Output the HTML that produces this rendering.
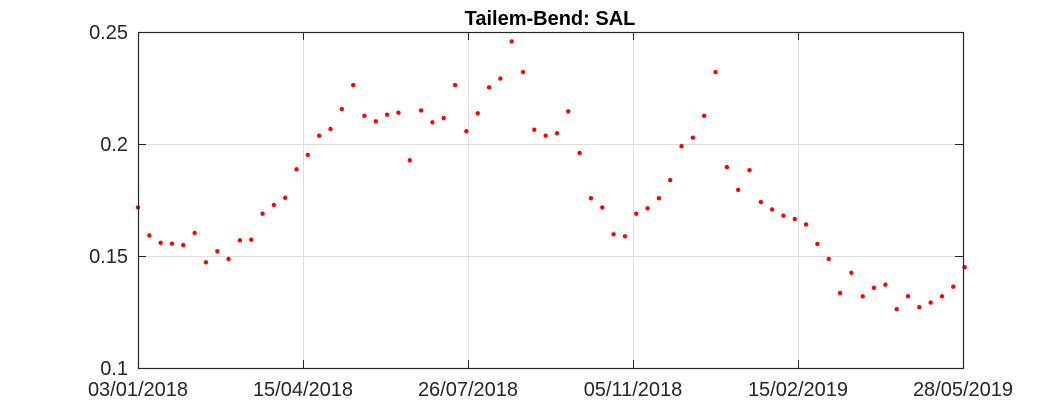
<!DOCTYPE html>
<html><head><meta charset="utf-8"><style>
html,body{margin:0;padding:0;background:#fff;}
svg{display:block;font-family:"Liberation Sans",Arial,sans-serif;}
</style></head><body>
<svg id="chart" width="1063" height="413">
<rect x="0" y="0" width="1063" height="413" fill="#fff"/>
<text x="550" y="25" text-anchor="middle" font-size="20" font-weight="bold" fill="#000">Tailem-Bend: SAL</text>
<g id="grid"></g>
<g id="points"></g>
<rect x="138.5" y="32.5" width="825" height="336" fill="none" stroke="#262626" stroke-width="1.2"/>
<g id="axes"></g>
</svg>
<script>
const yTicks = [0.1, 0.15, 0.2, 0.25];
const yTickLabels = ["0.1", "0.15", "0.2", "0.25"];
const xTickLabels = ["03/01/2018", "15/04/2018", "26/07/2018", "05/11/2018", "15/02/2019", "28/05/2019"];
const xTickDays = [0, 102, 204, 306, 408, 510];
const startDate = "2018-01-03";
const stepDays = 7;
const salValues = [0.1717,0.1592,0.1559,0.1555,0.1549,0.1603,0.1472,0.1521,0.1487,0.1570,
0.1573,0.1689,0.1728,0.1760,0.1887,0.1951,0.2037,0.2067,0.2156,0.2263,
0.2126,0.2101,0.2131,0.2140,0.1927,0.2150,0.2097,0.2116,0.2263,0.2057,
0.2137,0.2253,0.2292,0.2458,0.2321,0.2064,0.2037,0.2048,0.2146,0.1960,
0.1758,0.1717,0.1597,0.1588,0.1689,0.1713,0.1758,0.1839,0.1990,0.2028,
0.2126,0.2321,0.1897,0.1795,0.1883,0.1741,0.1708,0.1680,0.1665,0.1641,
0.1554,0.1487,0.1335,0.1425,0.1320,0.1358,0.1372,0.1263,0.1320,0.1272,
0.1292,0.1320,0.1363,0.1450];

const NS = "http://www.w3.org/2000/svg";
const L = 138, R = 963, T = 32, B = 368;
const dMin = 0, dMax = 510, yMin = 0.1, yMax = 0.25;
const xs = d => L + (d - dMin) / (dMax - dMin) * (R - L);
const ys = v => B - (v - yMin) / (yMax - yMin) * (B - T);
function mk(tag, attrs, parent) {
  const e = document.createElementNS(NS, tag);
  for (const k in attrs) e.setAttribute(k, attrs[k]);
  parent.appendChild(e);
  return e;
}
const grid = document.getElementById("grid");
const axes = document.getElementById("axes");
const pts = document.getElementById("points");

yTicks.forEach((v, i) => {
  const y = Math.round(ys(v)) + 0.5;
  if (i > 0 && i < yTicks.length - 1) {
    const g = mk("line", {x1: L, x2: R, y1: y, y2: y, stroke: "#dedede", "stroke-width": 1}, grid);
    
    
  }
  const t1 = mk("line", {x1: L, x2: L + 8, y1: y, y2: y, stroke: "#262626"}, axes);
  
  
  const t2 = mk("line", {x1: R - 8, x2: R, y1: y, y2: y, stroke: "#262626"}, axes);
  
  
  const tx = mk("text", {x: L - 10, y: ys(v) + 7, "text-anchor": "end", "font-size": 20, fill: "#262626"}, axes);
  tx.textContent = yTickLabels[i];
  
  
});

xTickDays.forEach((d, i) => {
  const x = Math.round(xs(d)) + 0.5;
  if (i > 0 && i < xTickDays.length - 1) {
    const g = mk("line", {x1: x, x2: x, y1: T, y2: B, stroke: "#dedede", "stroke-width": 1}, grid);
    
    
  }
  const t1 = mk("line", {x1: x, x2: x, y1: B - 8, y2: B, stroke: "#262626"}, axes);
  
  
  const t2 = mk("line", {x1: x, x2: x, y1: T, y2: T + 8, stroke: "#262626"}, axes);
  
  
  const tx = mk("text", {x: xs(d), y: 396, "text-anchor": "middle", "font-size": 20, fill: "#262626"}, axes);
  tx.textContent = xTickLabels[i];
  
  
});

salValues.forEach((v, i) => {
  const c = mk("circle", {cx: xs(i * stepDays), cy: ys(v), r: 2.2, fill: "#ff0000"}, pts);
  
  
});
</script>
</body></html>
